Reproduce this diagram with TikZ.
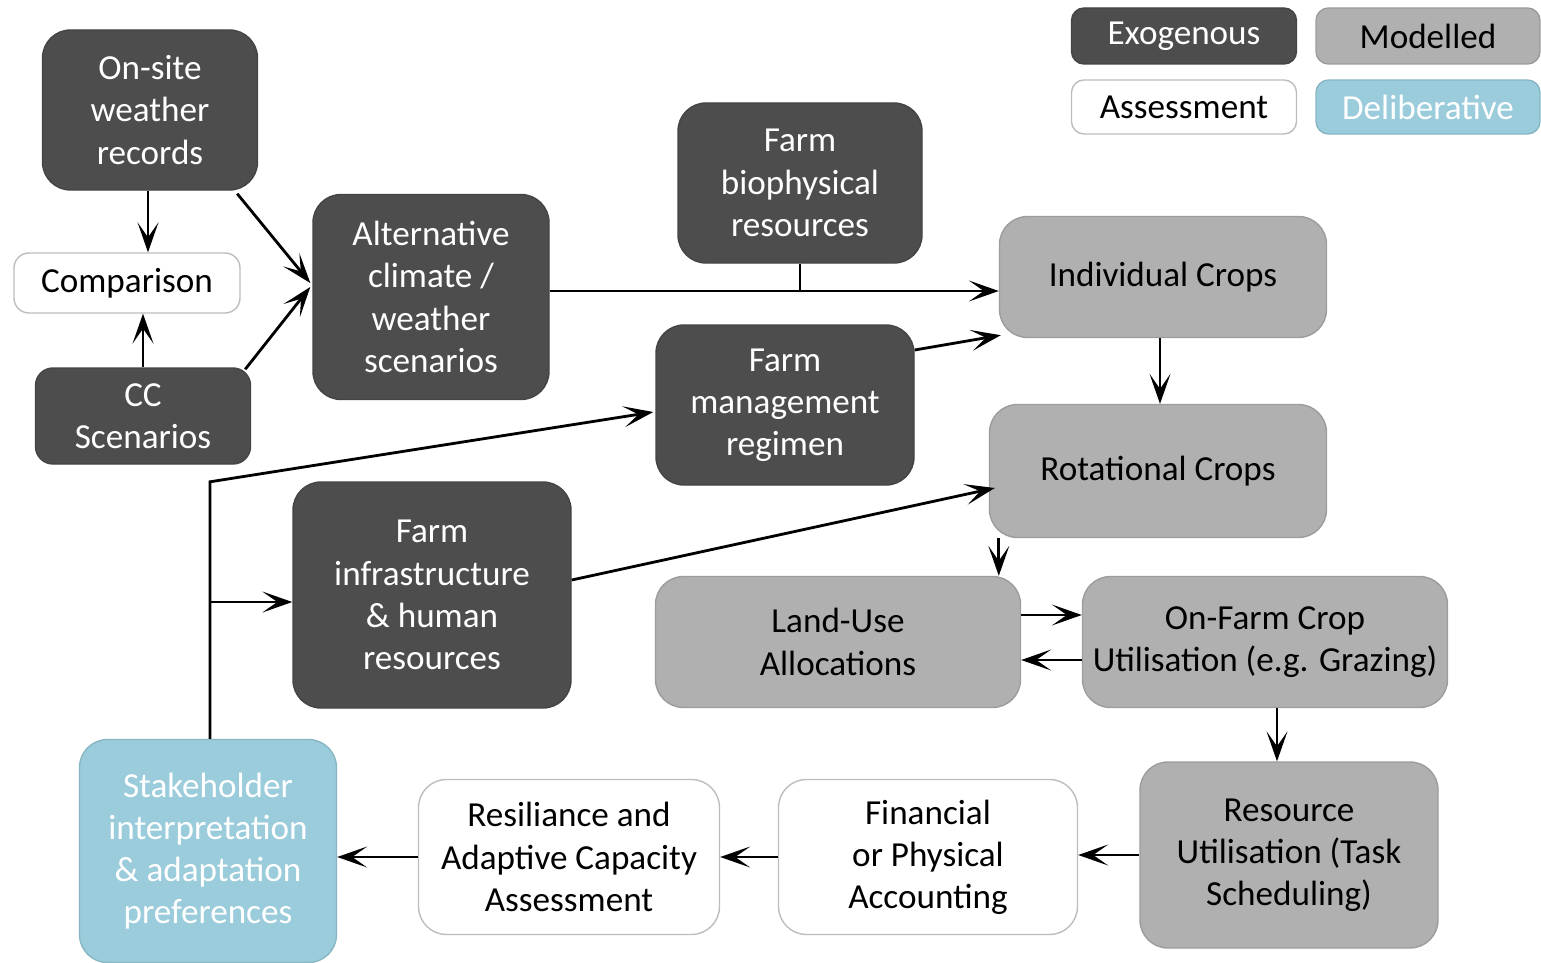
\documentclass[tikz,border=0pt]{standalone}
\usepackage{fontspec}
\setmainfont{Carlito}
\usetikzlibrary{arrows.meta,calc}
\definecolor{exo}{HTML}{4D4D4D}
\definecolor{exoline}{HTML}{444444}
\definecolor{modl}{HTML}{B0B0B0}
\definecolor{modlline}{HTML}{9C9C9C}
\definecolor{assline}{HTML}{BDBDBD}
\definecolor{delib}{HTML}{9BCCDB}
\definecolor{delibline}{HTML}{88B6C4}
\tikzset{
  px/.style={x=0.02cm,y=-0.02cm},
  base/.style={rounded corners=0.56cm, align=center, inner sep=2pt,
    font=\fontsize{20}{24}\selectfont, line width=0.8pt},
  sz/.style 2 args={minimum width=#1*0.02cm, minimum height=#2*0.02cm},
  exobox/.style={base, fill=exo, draw=exoline, text=white},
  modbox/.style={base, fill=modl, draw=modlline, text=black},
  assbox/.style={base, fill=white, draw=assline, text=black},
  delbox/.style={base, fill=delib, draw=delibline, text=white},
  legend/.style={rounded corners=0.25cm},
  link/.style={draw=black, line width=1.6pt},
  arr/.style={link, -{Stealth[length=0.6cm,width=0.42cm,inset=0.3cm,line width=0.8pt]}}
}
\begin{document}
\begin{tikzpicture}[px]
\useasboundingbox (0,0) rectangle (1541,963);

% legend
\node[exobox, legend, sz={225}{56}] (lexo) at (1184,36) {Exogenous};
\node[modbox, legend, sz={224}{56}] (lmod) at (1428,36) {Modelled};
\node[assbox, legend, sz={225}{54}] (lass) at (1184,107) {Assessment};
\node[delbox, legend, sz={224}{54}] (ldel) at (1428,107) {Deliberative};

% climate inputs
\node[exobox, sz={215}{160}] (ons) at (150,110) {On-site\\weather\\records};
\node[assbox, rounded corners=0.3cm, sz={226}{60}] (cmp) at (127,283) {Comparison};
\node[exobox, rounded corners=0.35cm, sz={215}{96}] (ccs) at (143,416) {CC\\Scenarios};
\node[exobox, sz={236}{205}] (alt) at (431,297) {Alternative\\climate /\\weather\\scenarios};

% farm inputs
\node[exobox, sz={244}{160}] (fbr) at (800,183) {Farm\\biophysical\\resources};
\node[exobox, sz={258}{160}] (fmr) at (785,405) {Farm\\management\\regimen};
\node[exobox, sz={278}{226}] (fih) at (432,595) {Farm\\infrastructure\\\& human\\resources};

% modelled components
\node[modbox, sz={327}{121}] (ind) at (1163,277) {Individual Crops};
\node[modbox, sz={337}{133}] (rot) at (1158,471) {Rotational Crops};
\node[modbox, sz={365}{131}] (lua) at (838,642) {Land-Use\\Allocations};
\node[modbox, sz={365}{131}] (ofc) at (1265,642) {On-Farm Crop\\Utilisation (e.g. Grazing)};
\node[modbox, sz={298}{186}] (rus) at (1289,855) {Resource\\Utilisation (Task\\Scheduling)};

% assessment and deliberation
\node[assbox, sz={299}{155}] (fpa) at (928,857) {Financial\\or Physical\\Accounting};
\node[assbox, sz={301}{155}] (rac) at (569,857) {Resiliance and\\Adaptive Capacity\\Assessment};
\node[delbox, sz={257}{223}] (stk) at (208,851) {Stakeholder\\interpretation\\\& adaptation\\preferences};

% climate connectors
\draw[arr] ($(ons.south)+(-2,0)$) -- ($(cmp.north)+(21,0)$);
\draw[arr] (ccs.north) -- ($(cmp.south)+(16,0)$);
\draw[arr] ($(ons.south east)+(-21,3)$) -- ($(alt.west)+(-2,-14)$);
\draw[arr] ($(ccs.north east)+(-6,2)$) -- ($(alt.west)+(-2,-10)$);

% inputs to crop models
\coordinate (j) at ($(alt.east)+(0,-6)$);
\draw[arr] (j) -- (ind.west |- j);
\draw[link] (fbr.south) -- (fbr.south |- j);
\draw[arr] ($(fmr.east)+(0,-55)$) -- ($(ind.south west)+(2,-3)$);
\draw[arr] ($(fih.east)+(0,-15)$) -- ($(rot.west)+(6,17)$);

% model chain
\draw[arr] ($(ind.south)+(-3,0)$) -- ($(ind.south |- rot.north)+(-3,0)$);
\coordinate (r) at ($(rot.south west)+(10,0)$);
\draw[arr] (r) -- (r |- lua.north);
\draw[arr] ($(lua.east)+(0,-27)$) -- ($(ofc.west)+(0,-27)$);
\draw[arr] ($(ofc.west)+(0,18)$) -- ($(lua.east)+(0,18)$);
\coordinate (u) at ($(ofc.south)+(12,0)$);
\draw[arr] (u) -- (u |- rus.north);
\draw[arr] (rus.west) -- (fpa.east |- rus.west);
\draw[arr] (fpa.west) -- (rac.east);
\draw[arr] (rac.west) -- (stk.east |- rac.west);

% feedback from stakeholders
\coordinate (k) at ($(stk.north)+(2,-257)$);
\draw[arr] ($(stk.north)+(2,0)$) -- (k) -- ($(fmr.west)+(-2,7)$);
\draw[arr] ($(stk.north |- fih.west)+(2,7)$) -- ($(fih.west)+(0,7)$);
\end{tikzpicture}
\end{document}
